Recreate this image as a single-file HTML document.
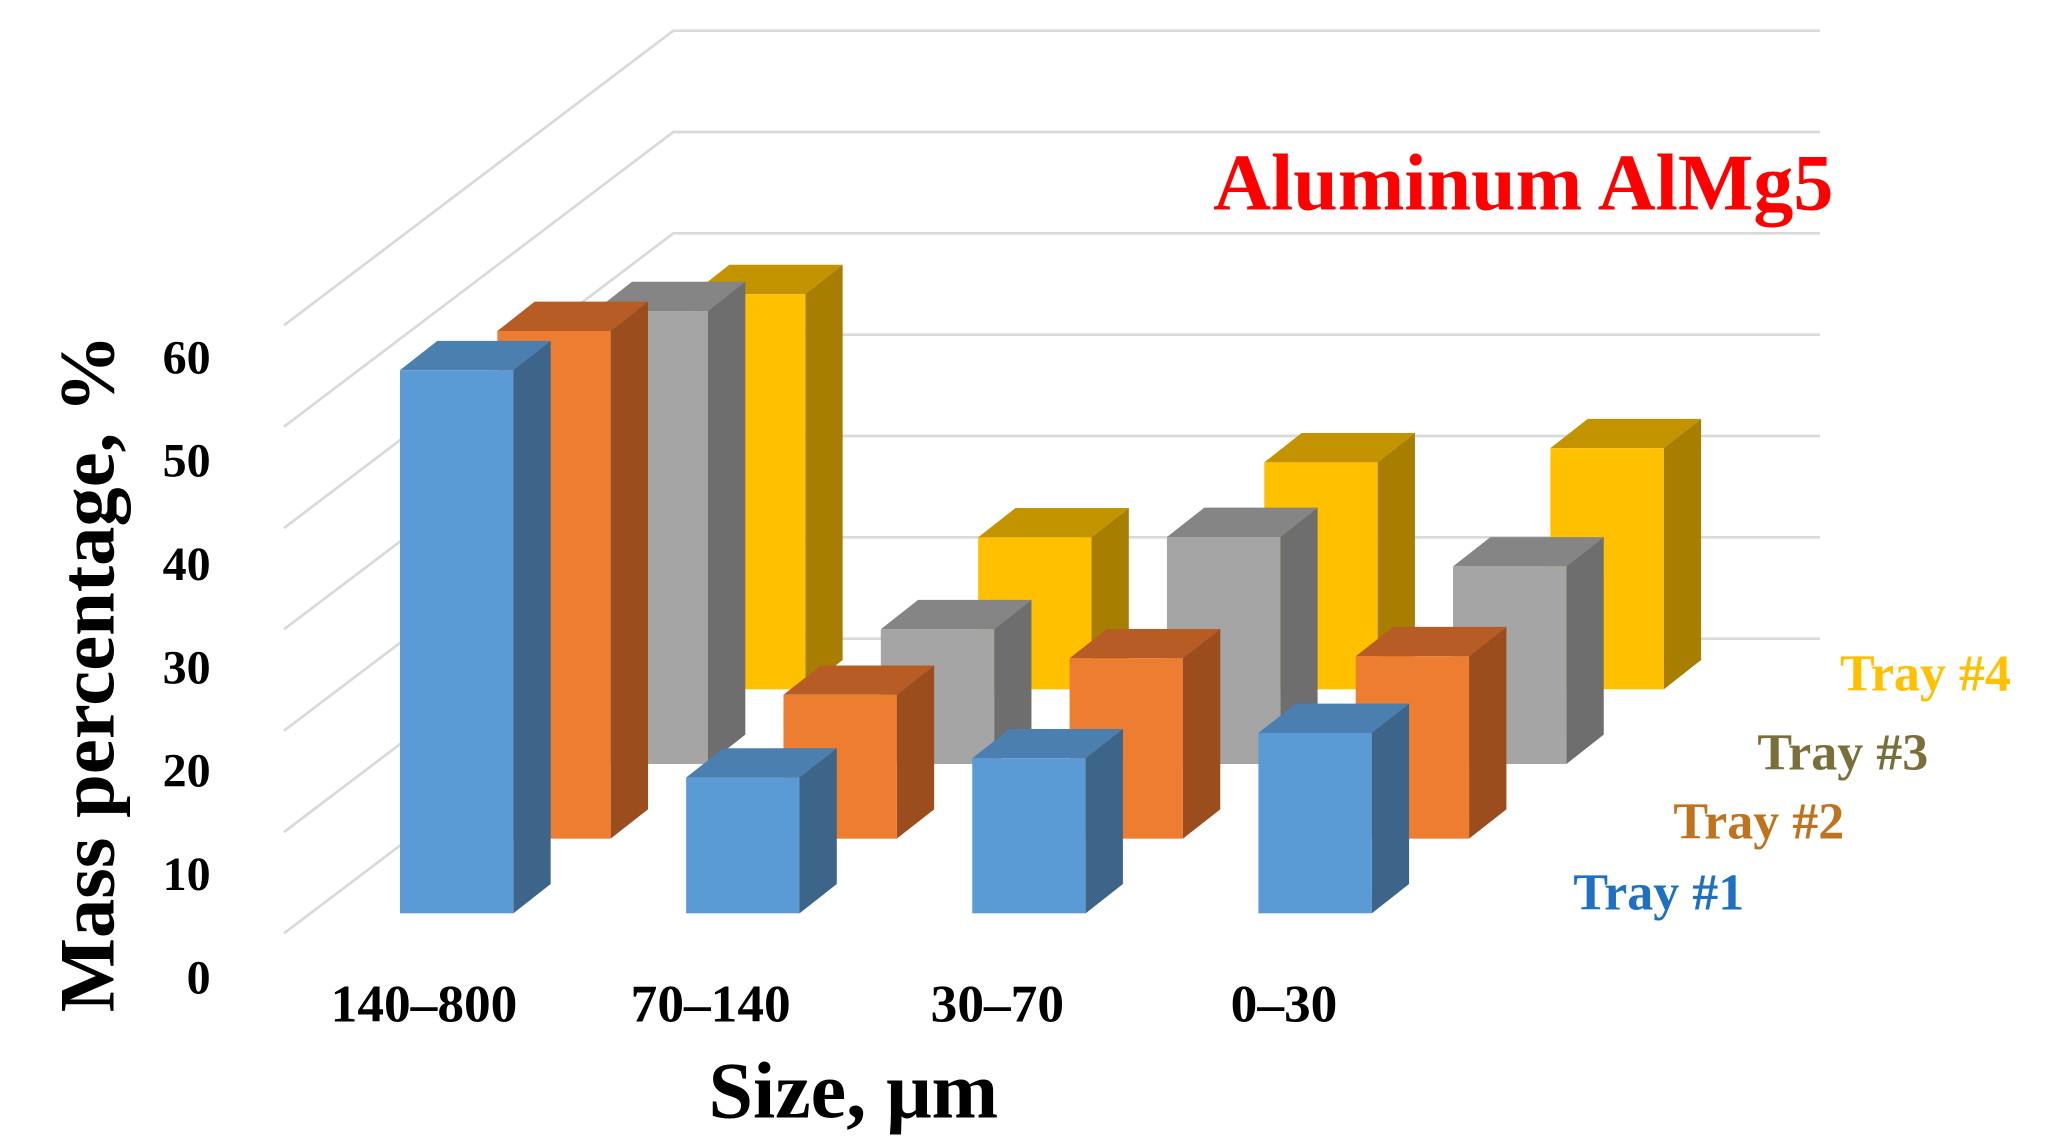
<!DOCTYPE html>
<html><head><meta charset="utf-8"><style>
html,body{margin:0;padding:0;background:#fff;}
svg{display:block;font-family:"Liberation Serif",serif;font-weight:bold;}
</style></head><body>
<svg id="chart" width="2060" height="1144" viewBox="0 0 1545 858" xmlns="http://www.w3.org/2000/svg">
<g id="grid"></g>
<g id="bars"></g>
<g id="axes"></g>
<text x="1375" y="157" text-anchor="end" font-size="60" fill="#ff0000">Aluminum AlMg5</text>
<text x="640" y="838" text-anchor="middle" font-size="60" fill="#000">Size, μm</text>
<text transform="translate(85,505) rotate(-90)" text-anchor="middle" font-size="59" fill="#000">Mass percentage, %</text>
<g id="legend"></g>
</svg>
<script>
const categories = ["140–800", "70–140", "30–70", "0–30"];
const trays = ["Tray #1", "Tray #2", "Tray #3", "Tray #4"];
const tray1 = [53.6, 13.4, 15.3, 17.8];
const tray2 = [50.1, 14.2, 17.8, 18.0];
const tray3 = [44.7, 13.3, 22.4, 19.5];
const tray4 = [39.0, 15.0, 22.4, 23.8];
const yTicks = [0, 10, 20, 30, 40, 50, 60];

const series = [tray1, tray2, tray3, tray4];
const NS = "http://www.w3.org/2000/svg";
const faces = [
  ["#5b9bd5", "#4a7fb0", "#3d6589"],
  ["#ed7d31", "#b85c25", "#9c4d1d"],
  ["#a5a5a5", "#858585", "#6e6e6e"],
  ["#ffc000", "#c39400", "#a87e00"]
];
const legendColors = ["#1f6fc3", "#c0731f", "#7a6f3a", "#ffc000"];
const legendPos = [[1180, 682], [1255, 629], [1318, 577], [1380, 518]];
const PX = 7.6;
function xFront(ci, ti) { return 300 + ci * 214.6 + ti * 73; }
function yBase(ti) { return 685 - ti * 56; }
function yVal(v, ti) { return yBase(ti) - v * PX; }
function el(tag, attrs, parent) {
  const e = document.createElementNS(NS, tag);
  for (const k in attrs) e.setAttribute(k, attrs[k]);
  parent.appendChild(e);
  return e;
}
const grid = document.getElementById("grid");
yTicks.forEach(t => {
  const yb = 479 - t * 7.6;
  const p = el("polyline", {points: `213,${yb + 221} 505,${yb} 1365,${yb}`, fill: "none", stroke: "#d9d9d9", "stroke-width": 2}, grid);
  
  
});
const axes = document.getElementById("axes");
yTicks.forEach(t => {
  const tx = el("text", {x: 158, y: 745 - t * 7.75, "text-anchor": "end", "font-size": 36, fill: "#000"}, axes);
  tx.textContent = t;
  
  
});
categories.forEach((c, ci) => {
  const tx = el("text", {x: 318 + ci * 215, y: 766, "text-anchor": "middle", "font-size": 40, fill: "#000"}, axes);
  tx.textContent = c;
  
  
});
const bars = document.getElementById("bars");
const W = 85, DX = 28, DY = 22;
for (let ti = 3; ti >= 0; ti--) {
  categories.forEach((c, ci) => {
    const v = series[ti][ci];
    const x = xFront(ci, ti), yt = yVal(v, ti), yb = yBase(ti);
    const g = el("g", {}, bars);
    
    
    const f = faces[ti];
    el("polygon", {points: `${x},${yt} ${x + DX},${yt - DY} ${x + W + DX},${yt - DY} ${x + W},${yt}`, fill: f[1]}, g);
    el("polygon", {points: `${x + W},${yt} ${x + W + DX},${yt - DY} ${x + W + DX},${yb - DY} ${x + W},${yb}`, fill: f[2]}, g);
    el("rect", {x: x, y: yt, width: W, height: yb - yt, fill: f[0]}, g);
  });
}
const legend = document.getElementById("legend");
trays.forEach((t, i) => {
  const tx = el("text", {x: legendPos[i][0], y: legendPos[i][1], "font-size": 39, fill: legendColors[i]}, legend);
  tx.textContent = t;
  
  
});
</script>
</body></html>
